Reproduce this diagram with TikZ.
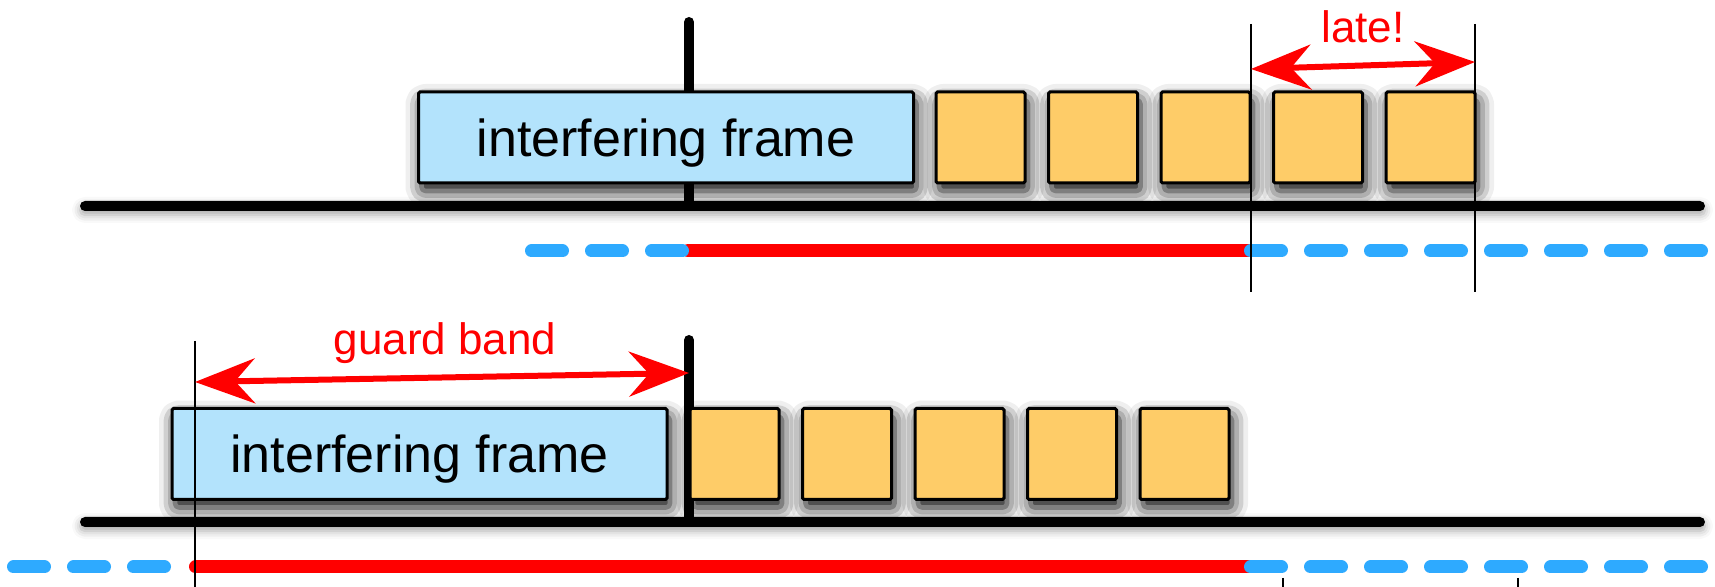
\documentclass[tikz,border=0pt]{standalone}
\usepackage{fontspec}
\setmainfont{Liberation Sans}
\usetikzlibrary{arrows.meta,shadows.blur}
\definecolor{framebg}{RGB}{179,227,252}
\definecolor{slotbg}{RGB}{254,204,104}
\definecolor{idleblue}{RGB}{46,170,255}
\begin{document}
\begin{tikzpicture}[x=0.5pt,y=-0.5pt,
  shade box/.style={draw=black,line width=1.5pt,rounded corners=0.8pt,inner sep=0pt,minimum height=45.5pt,
    blur shadow={shadow xshift=1.5pt,shadow yshift=-4pt,shadow blur radius=8pt,shadow blur extra rounding=2pt,shadow opacity=100}},
  frm/.style={shade box,fill=framebg,minimum width=247.5pt,text depth=0pt,font=\fontsize{26}{30}\selectfont},
  slot/.style={shade box,fill=slotbg,minimum width=44.5pt},
  axis/.style={fill=black,rounded corners=2.5pt,
    blur shadow={shadow xshift=0pt,shadow yshift=-2pt,shadow blur radius=4pt,shadow opacity=35}},
  gate/.style={line width=5pt,line cap=round},
  thinmark/.style={line width=1.4pt},
  busy/.style={red,line width=6.5pt,line cap=round},
  idle/.style={idleblue,line width=6.5pt,line cap=round,dash pattern=on 15.5pt off 14.5pt},
  span/.style={red,line width=3pt,{Stealth[length=30pt,width=22.5pt,inset=10pt]}-{Stealth[length=30pt,width=22.5pt,inset=10pt]}},
  lbl/.style={red,anchor=base,font=\fontsize{22}{26}\selectfont}]
\useasboundingbox (0,0) rectangle (1715,587);

% gate edges
\draw[gate] (689,22) -- (689,206);
\draw[gate] (689,340) -- (689,522);

% time axes
\fill[axis] (80,201) rectangle (1705,211);
\fill[axis] (80,517) rectangle (1705,527);

% upper schedule
\node[frm] (ifa) at (666,137.5) {interfering frame};
\node[slot] (a1) at (980.5,137.5) {};
\node[slot] (a2) at (1093,137.5) {};
\node[slot] (a3) at (1205.5,137.5) {};
\node[slot] (a4) at (1318,137.5) {};
\node[slot] (a5) at (1430.5,137.5) {};

% lower schedule
\node[frm] (ifb) at (419.5,454) {interfering frame};
\node[slot] (b1) at (734.5,454) {};
\node[slot] (b2) at (847,454) {};
\node[slot] (b3) at (959.5,454) {};
\node[slot] (b4) at (1072,454) {};
\node[slot] (b5) at (1184.5,454) {};

% gate state
\draw[busy] (688,251) -- (1251,251);
\draw[idle] (531.5,251) -- (682.5,251);
\draw[idle] (1250.5,251) -- (1701.5,251);
\draw[busy] (195.5,567) -- (1251,567);
\draw[idle] (13.5,567) -- (164.5,567);
\draw[idle] (1250.5,567) -- (1701.5,567);

% markers
\coordinate (lateL) at (1251,69);
\coordinate (lateR) at (1475,62);
\coordinate (gbL) at (195,382);
\coordinate (gbR) at (689,373);
\draw[thinmark] (1251,24) -- (1251,292);
\draw[thinmark] (1475,24) -- (1475,292);
\draw[thinmark] (195,341) -- (195,600);
\draw[thinmark] (1283,578) -- (1283,600);
\draw[thinmark] (1518,578) -- (1518,600);

\draw[span] (lateL) -- (lateR);
\node[lbl] (late) at (1363,43) {late!};
\draw[span] (gbL) -- (gbR);
\node[lbl] (gb) at (445,355) {guard band};
\end{tikzpicture}
\end{document}
